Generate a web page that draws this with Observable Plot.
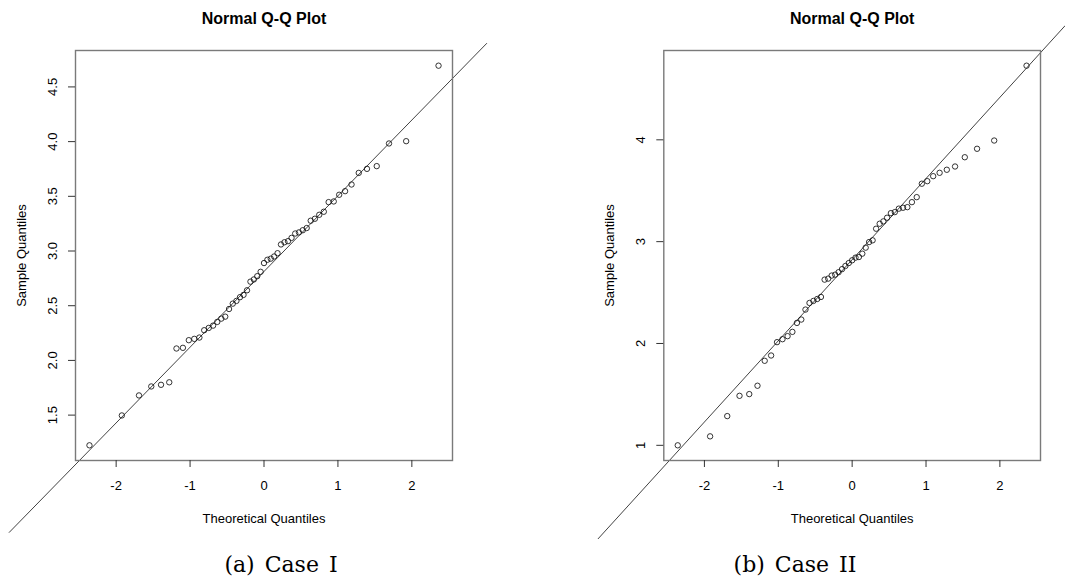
<!DOCTYPE html>
<html>
<head>
<meta charset="utf-8">
<script src="https://cdn.jsdelivr.net/npm/d3@7"></script>
<script src="https://cdn.jsdelivr.net/npm/@observablehq/plot@0.6"></script>
<style>
  html, body { margin: 0; padding: 0; background: #fff; }
  #wrap { position: relative; width: 1065px; height: 583px; overflow: hidden; background: #fff; }
  .panel { position: absolute; top: 0; }
  .panel svg { overflow: visible; }
  .cap { position: absolute; font-family: "DejaVu Serif", "Liberation Serif", serif; font-size: 22px; line-height: 26px; white-space: nowrap; color: #000; transform: translateX(-50%); word-spacing: 3px; }
</style>
</head>
<body>
<div id="wrap"></div>
<script>
// Theoretical normal quantiles (n = 55), shared by both panels
const theoretical = [
  -2.361, -1.923, -1.691, -1.525, -1.393, -1.2816, -1.184, -1.097, -1.017, -0.9432,
  -0.8742, -0.8091, -0.7474, -0.6887, -0.6319, -0.5776, -0.5244, -0.4728, -0.4224, -0.3728,
  -0.3245, -0.2769, -0.2298, -0.1833, -0.1372, -0.0913, -0.0456, 0,
  0.0456, 0.0913, 0.1372, 0.1833, 0.2298, 0.2769, 0.3245, 0.3728, 0.4224, 0.4728,
  0.5244, 0.5776, 0.6319, 0.6887, 0.7474, 0.8091, 0.8742, 0.9432, 1.017, 1.097,
  1.184, 1.2816, 1.393, 1.525, 1.691, 1.923, 2.361
];

// Sample quantiles, Case I
const sampleCase1 = [
  1.224, 1.497, 1.68, 1.762, 1.777, 1.80, 2.109, 2.115, 2.185, 2.197,
  2.209, 2.276, 2.297, 2.318, 2.352, 2.382, 2.40, 2.47, 2.519, 2.544,
  2.578, 2.599, 2.641, 2.72, 2.74, 2.77, 2.81, 2.89, 2.92, 2.93,
  2.95, 2.98, 3.06, 3.08, 3.09, 3.12, 3.16, 3.17, 3.19, 3.21,
  3.277, 3.295, 3.331, 3.359, 3.447, 3.453, 3.514, 3.547, 3.608, 3.714,
  3.751, 3.776, 3.983, 4.004, 4.694
];

// Sample quantiles, Case II
const sampleCase2 = [
  1.0, 1.088, 1.287, 1.486, 1.503, 1.585, 1.83, 1.882, 2.013, 2.042,
  2.072, 2.114, 2.202, 2.235, 2.333, 2.398, 2.418, 2.437, 2.457, 2.627,
  2.637, 2.667, 2.676, 2.70, 2.73, 2.761, 2.79, 2.817, 2.843, 2.849,
  2.882, 2.941, 2.996, 3.013, 3.127, 3.176, 3.199, 3.235, 3.28, 3.29,
  3.324, 3.333, 3.339, 3.388, 3.437, 3.569, 3.594, 3.643, 3.676, 3.706,
  3.738, 3.829, 3.912, 3.993, 4.728
];

// Reference lines (intercept, slope) and the q span over which they are drawn
const refLineCase1 = [2.813, 0.692];
const refSpanCase1 = [-3.446, 3.012];
const refLineCase2 = [2.823, 0.797];
const refSpanCase2 = [-3.438, 2.882];

// Tick labels
const xTicks = [-2, -1, 0, 1, 2];
const yTicksCase1 = [1.5, 2.0, 2.5, 3.0, 3.5, 4.0, 4.5];
const yTicksCase2 = [1, 2, 3, 4];

const titleText = "Normal Q-Q Plot";
const xLabel = "Theoretical Quantiles";
const yLabel = "Sample Quantiles";
const captions = ["(a) Case I", "(b) Case II"];

function padded(values) {
  const [lo, hi] = d3.extent(values);
  const p = (hi - lo) * 0.04;
  return [lo - p, hi + p];
}

function panel({sample, yTicks, yFmt, line, span, width, marginLeft, marginRight}) {
  const pts = theoretical.map((q, i) => ({q, v: sample[i]}));
  const lineData = span.map(q => ({q, v: line[0] + line[1] * q}));
  return Plot.plot({
    width,
    height: 545,
    marginLeft,
    marginRight,
    marginTop: 50,
    marginBottom: 85,
    x: {domain: padded(theoretical)},
    y: {domain: padded(sample)},
    style: {fontFamily: "'Liberation Sans', Arial, sans-serif", fontSize: "13px", color: "#000", background: "transparent", overflow: "visible"},
    marks: [
      Plot.line(lineData, {x: "q", y: "v", stroke: "#111", strokeWidth: 0.8}),
      Plot.dot(pts, {x: "q", y: "v", r: 2.7, stroke: "#111", strokeWidth: 0.85, fill: "none"}),
      Plot.frame({stroke: "#7a7a7a", strokeWidth: 1.4}),
      Plot.axisX(xTicks, {tickSize: 7, tickFormat: () => "", label: null, stroke: "#333"}),
      Plot.text(xTicks, {x: d => d, text: d => String(d), frameAnchor: "bottom", dy: 29.5, lineAnchor: "bottom", fill: "#000"}),
      Plot.axisY(yTicks, {tickSize: 7, tickFormat: () => "", label: null, stroke: "#333"}),
      Plot.text(yTicks, {y: d => d, text: yFmt, frameAnchor: "left", dx: -18.5, rotate: -90, textAnchor: "middle", lineAnchor: "bottom", fill: "#000"}),
      Plot.text([yLabel], {text: d => d, frameAnchor: "left", dx: -50, rotate: -90, textAnchor: "middle", lineAnchor: "bottom", fill: "#000"}),
      Plot.text([xLabel], {text: d => d, frameAnchor: "bottom", dy: 62, lineAnchor: "bottom", fill: "#000"}),
      Plot.text([titleText], {text: d => d, frameAnchor: "top", dy: -26.7, lineAnchor: "bottom", fontWeight: "bold", fontSize: 16, fill: "#000"})
    ]
  });
}

const wrap = document.getElementById("wrap");

const left = document.createElement("div");
left.className = "panel";
left.style.left = "0px";
left.appendChild(panel({
  sample: sampleCase1, yTicks: yTicksCase1, yFmt: d => d3.format(".1f")(d),
  line: refLineCase1, span: refSpanCase1, width: 532, marginLeft: 75, marginRight: 80
}));
wrap.appendChild(left);

const right = document.createElement("div");
right.className = "panel";
right.style.left = "532px";
right.appendChild(panel({
  sample: sampleCase2, yTicks: yTicksCase2, yFmt: d => String(d),
  line: refLineCase2, span: refSpanCase2, width: 533, marginLeft: 131.3, marginRight: 25
}));
wrap.appendChild(right);

const capPos = [281, 795];
captions.forEach((c, i) => {
  const d = document.createElement("div");
  d.className = "cap";
  d.textContent = c;
  d.style.left = capPos[i] + "px";
  d.style.top = "552px";
  wrap.appendChild(d);
});
</script>
</body>
</html>
